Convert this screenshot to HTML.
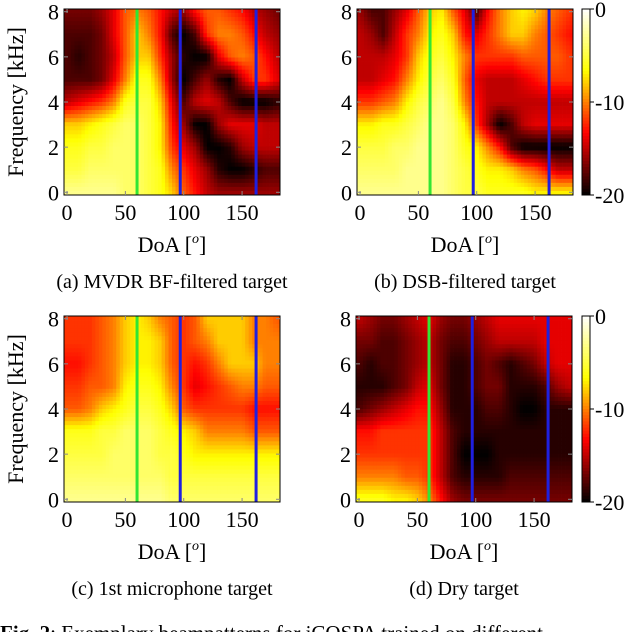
<!DOCTYPE html>
<html><head><meta charset="utf-8">
<style>
html,body{margin:0;padding:0;background:#fff;}
svg{display:block;font-family:"Liberation Serif",serif;}
</style></head>
<body>
<svg id="fig" width="640" height="632" viewBox="0 0 640 632"></svg>
<script>
// ---- data: DoA columns (deg), frequency rows (kHz, top to bottom) ----
const doaCols = [0,10,20,30,40,50,60,70,80,90,100,110,120,130,140,150,160,170,180];
const freqRows = [8,7,6,5,4,3,2,1,0];
const xTicks = [0,50,100,150];
const yTicks = [0,2,4,6,8];
const cbTicks = [0,-10,-20];
const targetLines = [60,97,162];
const mvdrValues = [
[-17,-17,-17,-16,-14,-11,-10,-11,-13,-15,-16,-13,-11,-11,-12,-13,-15,-16,-17],
[-18,-18,-18,-17,-14,-11,-8,-10,-13,-18,-20,-18,-12,-10,-10,-11,-13,-15,-16],
[-18,-19,-18,-17,-15,-11,-8,-8,-12,-16,-19,-20,-20,-14,-11,-10,-11,-13,-15],
[-18,-18,-18,-17,-14,-10,-6,-6,-10,-16,-20,-18,-16,-19,-20,-15,-12,-12,-14],
[-15,-14,-13,-12,-10,-6,-5,-5,-8,-14,-18,-15,-14,-15,-18,-20,-20,-20,-19],
[-8,-8,-7,-6,-5,-4,-4,-5,-7,-13,-16,-20,-20,-16,-14,-14,-14,-15,-15],
[-6,-6,-5,-5,-4,-4,-4,-5,-7,-12,-14,-16,-20,-20,-19,-16,-15,-15,-15],
[-5,-5,-4,-4,-4,-4,-4,-5,-6,-10,-12,-14,-16,-19,-20,-20,-19,-18,-18],
[-3,-3,-3,-3,-3,-4,-4,-5,-6,-8,-11,-13,-15,-16,-16,-16,-16,-16,-16]];
const dsbValues = [
[-16,-18,-18,-16,-14,-11,-8,-7,-11,-14,-18,-13,-10,-8,-7,-8,-10,-11,-12],
[-15,-16,-18,-15,-12,-10,-7,-6,-8,-13,-14,-12,-10,-8,-8,-10,-11,-12,-13],
[-15,-15,-15,-14,-12,-8,-6,-5,-7,-10,-12,-12,-12,-12,-11,-11,-11,-11,-12],
[-15,-15,-14,-13,-10,-7,-5,-4,-6,-11,-14,-15,-15,-15,-14,-13,-12,-12,-12],
[-12,-12,-11,-10,-7,-5,-4,-3,-5,-10,-13,-15,-15,-15,-15,-15,-15,-15,-15],
[-7,-7,-6,-6,-5,-4,-3,-3,-4,-7,-12,-16,-20,-18,-15,-14,-14,-14,-14],
[-5,-5,-5,-4,-4,-3,-3,-3,-4,-6,-7,-10,-13,-18,-20,-20,-20,-20,-20],
[-4,-4,-4,-4,-3,-3,-3,-3,-4,-5,-6,-7,-7,-8,-10,-11,-13,-15,-15],
[-3,-3,-3,-3,-3,-3,-3,-3,-4,-5,-5,-6,-6,-6,-6,-7,-7,-7,-7]];
const micValues = [
[-12,-12,-12,-11,-10,-8,-7,-8,-10,-11,-12,-11,-8,-8,-8,-8,-10,-10,-11],
[-12,-12,-12,-11,-10,-8,-7,-7,-8,-11,-12,-11,-10,-8,-8,-8,-10,-10,-10],
[-13,-13,-12,-11,-10,-8,-7,-7,-8,-11,-12,-13,-12,-10,-8,-8,-8,-10,-10],
[-12,-12,-11,-11,-10,-7,-6,-6,-7,-10,-12,-14,-13,-12,-11,-10,-10,-11,-11],
[-11,-11,-10,-8,-7,-6,-5,-5,-6,-8,-11,-12,-12,-12,-12,-12,-13,-13,-13],
[-6,-6,-6,-5,-5,-4,-4,-4,-5,-6,-7,-8,-10,-10,-10,-10,-11,-11,-11],
[-5,-5,-5,-5,-4,-4,-4,-4,-5,-5,-6,-7,-7,-7,-7,-7,-7,-7,-7],
[-4,-4,-4,-4,-4,-4,-4,-4,-4,-5,-5,-5,-5,-5,-5,-5,-5,-5,-5],
[-3,-3,-3,-3,-3,-3,-3,-3,-3,-4,-4,-4,-4,-4,-4,-4,-4,-4,-4]];
const dryValues = [
[-15,-16,-17,-17,-16,-15,-14,-16,-17,-17,-16,-15,-14,-14,-14,-14,-14,-14,-14],
[-17,-17,-18,-18,-17,-16,-15,-17,-18,-18,-17,-16,-15,-15,-15,-15,-14,-14,-14],
[-18,-19,-18,-18,-17,-16,-15,-17,-19,-19,-18,-17,-18,-19,-18,-17,-15,-14,-14],
[-19,-19,-19,-18,-17,-15,-14,-17,-19,-19,-18,-17,-17,-19,-19,-19,-18,-16,-15],
[-18,-17,-16,-15,-14,-13,-13,-16,-19,-19,-19,-18,-18,-19,-20,-20,-19,-19,-19],
[-13,-13,-12,-12,-12,-12,-12,-15,-18,-19,-19,-19,-19,-19,-19,-19,-19,-19,-19],
[-12,-12,-12,-12,-12,-12,-12,-15,-18,-20,-20,-20,-19,-19,-19,-19,-19,-19,-19],
[-10,-10,-10,-10,-11,-11,-12,-15,-18,-19,-19,-19,-19,-18,-18,-18,-18,-18,-18],
[-6,-6,-6,-7,-7,-8,-10,-13,-16,-17,-17,-17,-17,-17,-17,-17,-17,-17,-17]];

const NS = "http://www.w3.org/2000/svg";
const svg = document.getElementById('fig');
function mk(tag, attrs, parent){const e=document.createElementNS(NS,tag);for(const k in attrs)e.setAttribute(k,attrs[k]);(parent||svg).appendChild(e);return e;}
function hot(v){let t=Math.max(0,Math.min(1,(v+20)/20));const r=Math.min(1,3*t),g=Math.max(0,Math.min(1,3*t-1)),b=Math.max(0,Math.min(1,3*t-2));return `rgb(${Math.round(r*255)},${Math.round(g*255)},${Math.round(b*255)})`;}
function sample(vals, deg, f){
  const cx=Math.max(0,Math.min(doaCols.length-1.0001,deg/10));
  const ry=Math.max(0,Math.min(freqRows.length-1.0001,(8-f)));
  const i=Math.floor(cx),j=Math.floor(ry),a=cx-i,b=ry-j;
  return (vals[j][i]*(1-a)+vals[j][i+1]*a)*(1-b)+(vals[j+1][i]*(1-a)+vals[j+1][i+1]*a)*b;
}
const W=216,H=186,X0=-2.6,X1=182.5,Y0=-0.12,Y1=8.12;
function panel(name, vals, left, top, showYLabel, showCb, caption){
  const g=mk('g',{});
  
  
  const xs=d=>left+(d-X0)/(X1-X0)*W, ys=f=>top+H-(f-Y0)/(Y1-Y0)*H;
  const nx=62, ny=46, cw=W/nx, ch=H/ny;
  const hm=mk('g',{},g);
  
  
  for(let yi=0;yi<ny;yi++)for(let xi=0;xi<nx;xi++){
    const px=left+xi*cw, py=top+yi*ch;
    const d=X0+(xi+0.5)/nx*(X1-X0), f=Y1-(yi+0.5)/ny*(Y1-Y0);
    const r=mk('rect',{x:px.toFixed(2),y:py.toFixed(2),width:(cw+0.4).toFixed(2),height:(ch+0.4).toFixed(2),fill:hot(sample(vals,d,f))},hm);
    
    
  }
  targetLines.forEach((d,k)=>{
    const l=mk('line',{x1:xs(d),x2:xs(d),y1:top,y2:top+H,stroke:k==0?'#33e633':'#1f1fe0','stroke-width':3},g);
    
    
  });
  const fr=mk('rect',{x:left,y:top,width:W,height:H,fill:'none',stroke:'#000','stroke-width':1},g);
  
  
  xTicks.forEach(t=>{
    mk('line',{x1:xs(t),x2:xs(t),y1:top+H,y2:top+H-4,stroke:'#888'},g);
    mk('line',{x1:xs(t),x2:xs(t),y1:top,y2:top+4,stroke:'#888'},g);
    const tx=mk('text',{x:xs(t),y:top+H+25,'font-size':22,'text-anchor':'middle'},g);
    tx.textContent=t;
    
    
  });
  yTicks.forEach(t=>{
    mk('line',{x1:left,x2:left+4,y1:ys(t),y2:ys(t),stroke:'#888'},g);
    mk('line',{x1:left+W,x2:left+W-4,y1:ys(t),y2:ys(t),stroke:'#888'},g);
    const tx=mk('text',{x:left-5,y:ys(t)+8,'font-size':22,'text-anchor':'end'},g);
    tx.textContent=t;
    
    
  });
  const xl=mk('text',{x:left+W/2,y:top+H+57,'font-size':22,'text-anchor':'middle'},g);
  xl.innerHTML='DoA [<tspan font-size="14" font-style="italic" dy="-9">o</tspan><tspan dy="9">]</tspan>';
  
  
  if(showYLabel){
    const yl=mk('text',{x:0,y:0,'font-size':22,'text-anchor':'middle',transform:`translate(23,${top+H/2}) rotate(-90)`},g);
    yl.textContent='Frequency [kHz]';
    
    
  }
  if(showCb){
    const cbx=582, cbw=8;
    const cb=mk('g',{},g);
    
    
    const n=60;
    for(let i=0;i<n;i++){
      const v=-(i+0.5)/n*20;
      mk('rect',{x:cbx,y:top+i*H/n,width:cbw,height:H/n+0.4,fill:hot(v)},cb);
    }
    mk('rect',{x:cbx,y:top,width:cbw,height:H,fill:'none',stroke:'#000'},cb);
    cbTicks.forEach(t=>{
      const y=top+(-t)/20*H;
      mk('line',{x1:cbx+cbw,x2:cbx+cbw+4,y1:y,y2:y,stroke:'#000'},cb);
      const tx=mk('text',{x:cbx+cbw+5,y:y+8,'font-size':22},cb);
      tx.textContent=t<0?'-'+(-t):t;
      
      
    });
  }
  const cp=mk('text',{x:left+W/2,y:top+H+93,'font-size':20,'text-anchor':'middle'},g);
  cp.textContent=caption;
  
  
}
panel('mvdr', mvdrValues, 64, 9, true, false, '(a) MVDR BF-filtered target');
panel('dsb', dsbValues, 357, 9, false, true, '(b) DSB-filtered target');
panel('mic', micValues, 64, 316, true, false, '(c) 1st microphone target');
panel('dry', dryValues, 356, 316, false, true, '(d) Dry target');
const fc=mk('text',{x:0,y:640,'font-size':21});
fc.innerHTML='<tspan font-weight="bold">Fig. 2</tspan>: Exemplary beampatterns for iCOSPA trained on different';


</script>
</body></html>
